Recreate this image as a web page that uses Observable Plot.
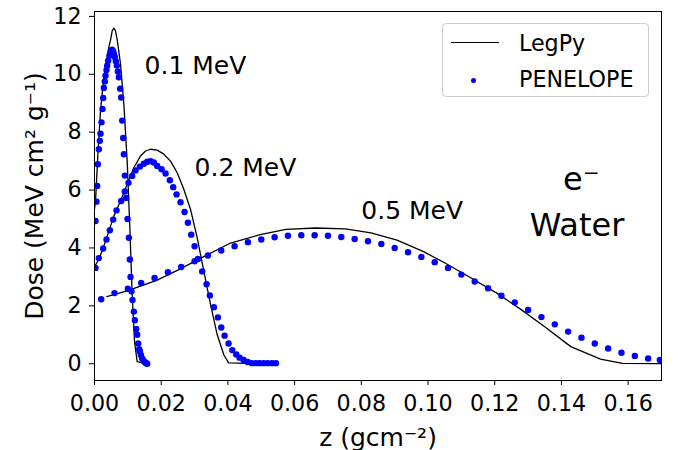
<!DOCTYPE html>
<html>
<head>
<meta charset="utf-8">
<script src="https://cdn.jsdelivr.net/npm/d3@7"></script>
<script src="https://cdn.jsdelivr.net/npm/@observablehq/plot@0.6"></script>
<style>
  body { margin: 0; background: #fff; }
  #wrap { position: relative; width: 681px; height: 450px; font-family: "DejaVu Sans", sans-serif; color: #000; }
  #wrap svg { display: block; }
  .lg { position: absolute; }
  #lgbox { left: 442px; top: 23px; width: 205px; height: 72px; border: 1px solid #cccccc; border-radius: 4px; background: rgba(255,255,255,0.8); }
  .lgtext { font-size: 22.2px; line-height: 22px; white-space: nowrap; }
</style>
</head>
<body>
<div id="wrap"></div>
<script>
// ---- tick values ----
const xTicks = [0, 0.02, 0.04, 0.06, 0.08, 0.10, 0.12, 0.14, 0.16];
const yTicks = [0, 2, 4, 6, 8, 10, 12];

// ---- series names ----
const seriesNames = ["LegPy", "PENELOPE"];
const energies = ["0.1 MeV", "0.2 MeV", "0.5 MeV"];

// ---- LegPy (line) ----
const legpy01X = [0, 0.0003, 0.0010, 0.0018, 0.0028, 0.0043, 0.0048, 0.0053, 0.0058, 0.0063, 0.0068, 0.0078, 0.0088, 0.0098, 0.0106, 0.0113, 0.0120, 0.0128, 0.0153];
const legpy01Y = [5.35, 5.6, 7.2, 8.74, 9.9, 10.94, 11.18, 11.5, 11.6, 11.5, 11.2, 10.36, 8.97, 7.0, 4.69, 2.38, 0.76, 0.07, 0.0];

const legpy02X = [0, 0.0013, 0.0028, 0.0043, 0.0058, 0.0078, 0.0098, 0.0118, 0.0138, 0.0153, 0.0168, 0.0188, 0.0208, 0.0228, 0.0248, 0.0268, 0.0288, 0.0308, 0.0328, 0.0348, 0.0368, 0.0388, 0.0402, 0.0482];
const legpy02Y = [3.35, 3.6, 4.06, 4.58, 5.1, 5.62, 6.2, 6.77, 7.18, 7.35, 7.41, 7.38, 7.24, 7.0, 6.6, 6.02, 5.33, 4.35, 3.19, 2.04, 1.0, 0.3, 0.03, 0.0];

const legpy05X = [0.0037, 0.0098, 0.0186, 0.0253, 0.0319, 0.0408, 0.0497, 0.0574, 0.0663, 0.0752, 0.0829, 0.0907, 0.0985, 0.1051, 0.1129, 0.1206, 0.1273, 0.1350, 0.1428, 0.1517, 0.1583, 0.1700];
const legpy05Y = [2.32, 2.52, 2.88, 3.25, 3.65, 4.17, 4.46, 4.64, 4.69, 4.66, 4.52, 4.27, 3.88, 3.48, 2.96, 2.44, 1.92, 1.28, 0.59, 0.16, 0.01, 0.0];

// ---- PENELOPE (dots) ----
const pen01X = [0.0003, 0.0006, 0.0008, 0.0010, 0.0013, 0.0016, 0.0018, 0.0021, 0.0024, 0.0026,
                0.0028, 0.0031, 0.0033, 0.0036, 0.0038, 0.0041, 0.0045, 0.0048, 0.0050, 0.0053,
                0.0056, 0.0058, 0.0061, 0.0064, 0.0067, 0.0070, 0.0073, 0.0077, 0.0080, 0.0083,
                0.0086, 0.0088, 0.0091, 0.0095, 0.0099, 0.0103, 0.0106, 0.0108, 0.0111, 0.0114,
                0.0118, 0.0121, 0.0125, 0.0128, 0.0131, 0.0134, 0.0136, 0.0139, 0.0143, 0.0147,
                0.0151, 0.0155, 0.0158];
const pen01Y = [4.93, 5.6, 6.14, 6.89, 7.41, 7.7, 7.95, 8.34, 8.8, 9.18,
                9.53, 9.75, 9.95, 10.15, 10.3, 10.47, 10.65, 10.75, 10.82, 10.85,
                10.8, 10.7, 10.6, 10.45, 10.3, 10.1, 9.9, 9.5, 9.2, 8.4,
                7.8, 7.24, 6.5, 5.73, 5.0, 4.35, 3.6, 3.0, 2.5, 2.2,
                1.8, 1.5, 1.2, 1.0, 0.7, 0.5, 0.42, 0.3, 0.18, 0.1,
                0.05, 0.02, 0.0];

const pen02X = [0.0003, 0.0013, 0.0026, 0.0036, 0.0046, 0.0056, 0.0066, 0.0080, 0.0091, 0.0102,
                0.0113, 0.0123, 0.0136, 0.0148, 0.0158, 0.0168, 0.0178, 0.0188, 0.0201, 0.0213,
                0.0226, 0.0236, 0.0246, 0.0258, 0.0270, 0.0280, 0.0290, 0.0300, 0.0310, 0.0323,
                0.0336, 0.0346, 0.0358, 0.0370, 0.0380, 0.0390, 0.0402, 0.0413, 0.0425, 0.0435,
                0.0447, 0.0459, 0.0472, 0.0484, 0.0495, 0.0507, 0.0519, 0.0532, 0.0544];
const pen02Y = [3.31, 3.65, 3.98, 4.29, 4.61, 4.98, 5.3, 5.62, 5.95, 6.25,
                6.49, 6.68, 6.81, 6.91, 6.98, 7.0, 6.95, 6.83, 6.72, 6.57,
                6.34, 6.1, 5.85, 5.58, 5.24, 4.87, 4.46, 4.06, 3.62, 3.19,
                2.75, 2.36, 1.95, 1.6, 1.25, 0.97, 0.7, 0.47, 0.32, 0.21,
                0.13, 0.06, 0.02, 0.02, 0.02, 0.02, 0.02, 0.02, 0.02];

const pen05X = [0.002, 0.006, 0.010, 0.014, 0.018, 0.022, 0.026, 0.030, 0.034, 0.038,
                0.042, 0.046, 0.050, 0.054, 0.058, 0.062, 0.066, 0.070, 0.074, 0.078,
                0.082, 0.086, 0.090, 0.094, 0.098, 0.102, 0.106, 0.110, 0.114, 0.118,
                0.122, 0.126, 0.130, 0.134, 0.138, 0.142, 0.146, 0.150, 0.154, 0.158,
                0.162, 0.166, 0.1695];
const pen05Y = [2.23, 2.44, 2.59, 2.79, 2.96, 3.16, 3.34, 3.54, 3.74, 3.91,
                4.06, 4.2, 4.29, 4.37, 4.42, 4.44, 4.44, 4.42, 4.38, 4.31,
                4.23, 4.14, 4.0, 3.85, 3.69, 3.51, 3.31, 3.08, 2.84, 2.61,
                2.35, 2.12, 1.86, 1.61, 1.36, 1.11, 0.9, 0.7, 0.53, 0.38,
                0.27, 0.18, 0.13];

// ---- annotations ----
const energyLabelX = [0.015, 0.030, 0.080];
const energyLabelY = [10.0, 6.5, 5.0];
const targetLabels = ["e\u207B", "Water"];
const targetLabelX = [0.1405, 0.1305];
const targetLabelY = [6.0, 4.4];

const xLabel = "z (gcm\u207B\u00B2)";
const yLabel = "Dose (MeV cm\u00B2 g\u207B\u00B9)";

// ---- build tables ----
function rows(xs, ys, energy) { return xs.map((x, i) => ({z: x, dose: ys[i], energy})); }
const legpyRows = [
  ...rows(legpy01X, legpy01Y, energies[0]),
  ...rows(legpy02X, legpy02Y, energies[1]),
  ...rows(legpy05X, legpy05Y, energies[2])
];
const penRows = [
  ...rows(pen01X, pen01Y, energies[0]),
  ...rows(pen02X, pen02Y, energies[1]),
  ...rows(pen05X, pen05Y, energies[2])
];
const energyAnn = energies.map((t, i) => ({t, x: energyLabelX[i], y: energyLabelY[i]}));
const targetAnn = targetLabels.map((t, i) => ({t, x: targetLabelX[i], y: targetLabelY[i]}));

const chart = Plot.plot({
  width: 681,
  height: 450,
  marginLeft: 94,
  marginRight: 20,
  marginTop: 11,
  marginBottom: 70,
  style: {fontFamily: "DejaVu Sans", fontSize: "22px", color: "black", background: "white", overflow: "visible"},
  x: {domain: [0, 0.17]},
  y: {domain: [-0.58, 12.17]},
  marks: [
    Plot.axisX({ticks: xTicks, tickFormat: d => d.toFixed(2), tickSize: 5, tickPadding: 10, fontSize: 22.2, label: null, strokeWidth: 1}),
    Plot.axisY({ticks: yTicks, tickFormat: d => String(d), tickSize: 5, tickPadding: 8, fontSize: 22.2, label: null, strokeWidth: 1}),
    Plot.line(legpyRows, {x: "z", y: "dose", z: "energy", stroke: "black", strokeWidth: 1.3, clip: true}),
    Plot.dot(penRows, {x: "z", y: "dose", r: 3.2, fill: "#0000ff", stroke: "none", clip: true}),
    Plot.frame({stroke: "black", strokeWidth: 1}),
    Plot.text(energyAnn, {x: "x", y: "y", text: "t", textAnchor: "start", lineAnchor: "bottom", fontSize: 25, fill: "black"}),
    Plot.text(targetAnn, {x: "x", y: "y", text: "t", textAnchor: "start", lineAnchor: "bottom", fontSize: 32, fill: "black"}),
    Plot.text([xLabel], {text: d => d, frameAnchor: "bottom", dy: 65, textAnchor: "middle", lineAnchor: "bottom", fontSize: 25, fill: "black"}),
    Plot.text([yLabel], {text: d => d, frameAnchor: "left", dx: -52, rotate: -90, textAnchor: "middle", lineAnchor: "bottom", fontSize: 25, fill: "black"})
  ]
});

const wrap = document.getElementById("wrap");
wrap.appendChild(chart);

// ---- legend (HTML overlay) ----
function el(cls, css, text) {
  const d = document.createElement("div");
  d.className = cls;
  d.setAttribute("style", css);
  if (text) d.textContent = text;
  wrap.appendChild(d);
  return d;
}
el("lg", "", "").id = "lgbox";
el("lg", "left:451px;top:41.5px;width:48px;height:0;border-top:1.4px solid #000;", "");
el("lg lgtext", "left:519px;top:32px;", seriesNames[0]);
el("lg", "left:470.5px;top:77.5px;width:5px;height:5px;border-radius:50%;background:#0000ff;", "");
el("lg lgtext", "left:519px;top:67.5px;", seriesNames[1]);
</script>
</body>
</html>
